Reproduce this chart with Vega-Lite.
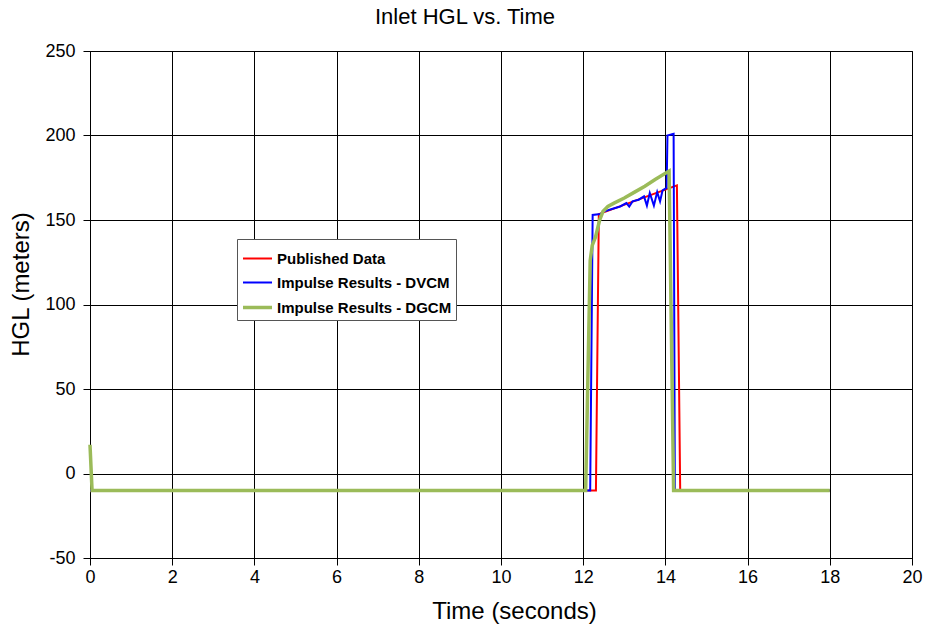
{
  "$schema": "https://vega.github.io/schema/vega-lite/v6.json",
  "width": 822,
  "height": 507,
  "autosize": {"type": "none"},
  "padding": {"left": 90, "top": 51, "right": 13, "bottom": 68},
  "background": "white",
  "title": {"text": "Inlet HGL vs. Time", "font": "Liberation Sans", "fontSize": 22, "fontWeight": "normal", "color": "#000", "offset": 13, "dx": -36},
  "config": {
    "view": {"stroke": "#000", "strokeWidth": 1},
    "axis": {
      "labelFont": "Liberation Sans", "labelFontSize": 18, "labelColor": "#000",
      "titleFont": "Liberation Sans", "titleFontSize": 24, "titleFontWeight": "normal", "titleColor": "#000",
      "gridColor": "#000", "gridOpacity": 1, "gridWidth": 1,
      "domainColor": "#000", "tickColor": "#000", "tickSize": 7, "labelFlush": false, "labelOverlap": false
    },
    "legend": {
      "orient": "none", "legendX": 147, "legendY": 188,
      "strokeColor": "#555", "fillColor": "white", "padding": 4,
      "symbolType": "stroke", "symbolSize": 841,
      "labelFont": "Liberation Sans", "labelFontWeight": "bold", "labelFontSize": 15, "labelColor": "#000",
      "rowPadding": -3, "labelOffset": 3, "labelLimit": 300
    }
  },
  "data": {"values": [
    {"series": "Published Data", "t": 0, "h": -10},
    {"series": "Published Data", "t": 12.31, "h": -10},
    {"series": "Published Data", "t": 12.38, "h": 153.5},
    {"series": "Published Data", "t": 14.28, "h": 170.5},
    {"series": "Published Data", "t": 14.36, "h": -10},
    {"series": "Published Data", "t": 18, "h": -10},
    {"series": "Impulse Results - DVCM", "t": 0, "h": -10},
    {"series": "Impulse Results - DVCM", "t": 12.17, "h": -10},
    {"series": "Impulse Results - DVCM", "t": 12.23, "h": 153},
    {"series": "Impulse Results - DVCM", "t": 12.42, "h": 153.5},
    {"series": "Impulse Results - DVCM", "t": 12.5, "h": 155},
    {"series": "Impulse Results - DVCM", "t": 12.7, "h": 156.5},
    {"series": "Impulse Results - DVCM", "t": 12.9, "h": 158},
    {"series": "Impulse Results - DVCM", "t": 13.05, "h": 160},
    {"series": "Impulse Results - DVCM", "t": 13.12, "h": 158},
    {"series": "Impulse Results - DVCM", "t": 13.2, "h": 161},
    {"series": "Impulse Results - DVCM", "t": 13.35, "h": 162},
    {"series": "Impulse Results - DVCM", "t": 13.48, "h": 164},
    {"series": "Impulse Results - DVCM", "t": 13.55, "h": 158.5},
    {"series": "Impulse Results - DVCM", "t": 13.62, "h": 166},
    {"series": "Impulse Results - DVCM", "t": 13.72, "h": 158.5},
    {"series": "Impulse Results - DVCM", "t": 13.8, "h": 166.5},
    {"series": "Impulse Results - DVCM", "t": 13.87, "h": 161},
    {"series": "Impulse Results - DVCM", "t": 13.93, "h": 167.5},
    {"series": "Impulse Results - DVCM", "t": 14.03, "h": 169},
    {"series": "Impulse Results - DVCM", "t": 14.05, "h": 200},
    {"series": "Impulse Results - DVCM", "t": 14.2, "h": 201},
    {"series": "Impulse Results - DVCM", "t": 14.23, "h": -10},
    {"series": "Impulse Results - DVCM", "t": 18, "h": -10},
    {"series": "Impulse Results - DGCM", "t": 0, "h": 17},
    {"series": "Impulse Results - DGCM", "t": 0.05, "h": -10},
    {"series": "Impulse Results - DGCM", "t": 12.06, "h": -10},
    {"series": "Impulse Results - DGCM", "t": 12.17, "h": 126},
    {"series": "Impulse Results - DGCM", "t": 12.22, "h": 135},
    {"series": "Impulse Results - DGCM", "t": 12.3, "h": 140},
    {"series": "Impulse Results - DGCM", "t": 12.4, "h": 150},
    {"series": "Impulse Results - DGCM", "t": 12.48, "h": 155},
    {"series": "Impulse Results - DGCM", "t": 12.6, "h": 158},
    {"series": "Impulse Results - DGCM", "t": 12.75, "h": 160},
    {"series": "Impulse Results - DGCM", "t": 13.0, "h": 163},
    {"series": "Impulse Results - DGCM", "t": 13.25, "h": 166.5},
    {"series": "Impulse Results - DGCM", "t": 13.5, "h": 170},
    {"series": "Impulse Results - DGCM", "t": 13.75, "h": 174},
    {"series": "Impulse Results - DGCM", "t": 14.09, "h": 179},
    {"series": "Impulse Results - DGCM", "t": 14.2, "h": -10},
    {"series": "Impulse Results - DGCM", "t": 18, "h": -10}
  ]},
  "mark": {"type": "line", "interpolate": "linear"},
  "encoding": {
    "x": {"field": "t", "type": "quantitative", "title": "Time (seconds)",
      "scale": {"domain": [0, 20], "nice": false},
      "axis": {"values": [0,2,4,6,8,10,12,14,16,18,20], "labelPadding": 3,
        "titleX": 424, "titleY": 53, "titleAlign": "center", "titleBaseline": "middle"}},
    "y": {"field": "h", "type": "quantitative", "title": "HGL (meters)",
      "scale": {"domain": [-50, 250], "nice": false},
      "axis": {"values": [-50,0,50,100,150,200,250], "labelPadding": 8,
        "titleX": -69, "titleY": 233, "titleAngle": 270, "titleAlign": "center", "titleBaseline": "middle",
        "labelExpr": "datum.value < 0 ? '-' + abs(datum.value) : '' + datum.value"}},
    "color": {"field": "series", "type": "ordinal", "title": null, "sort": null,
      "scale": {"domain": ["Published Data", "Impulse Results - DVCM", "Impulse Results - DGCM"], "range": ["#FF0000", "#0000FF", "#9BBB59"]},
      "legend": {"orient": "none", "legendX": 147, "legendY": 188}},
    "strokeWidth": {"field": "series", "type": "ordinal", "title": null, "sort": null,
      "scale": {"type": "ordinal", "domain": ["Published Data", "Impulse Results - DVCM", "Impulse Results - DGCM"], "range": [2, 2, 3.5]},
      "legend": {"orient": "none", "legendX": 147, "legendY": 188}},
    "order": {"field": "t", "type": "quantitative"}
  }
}
